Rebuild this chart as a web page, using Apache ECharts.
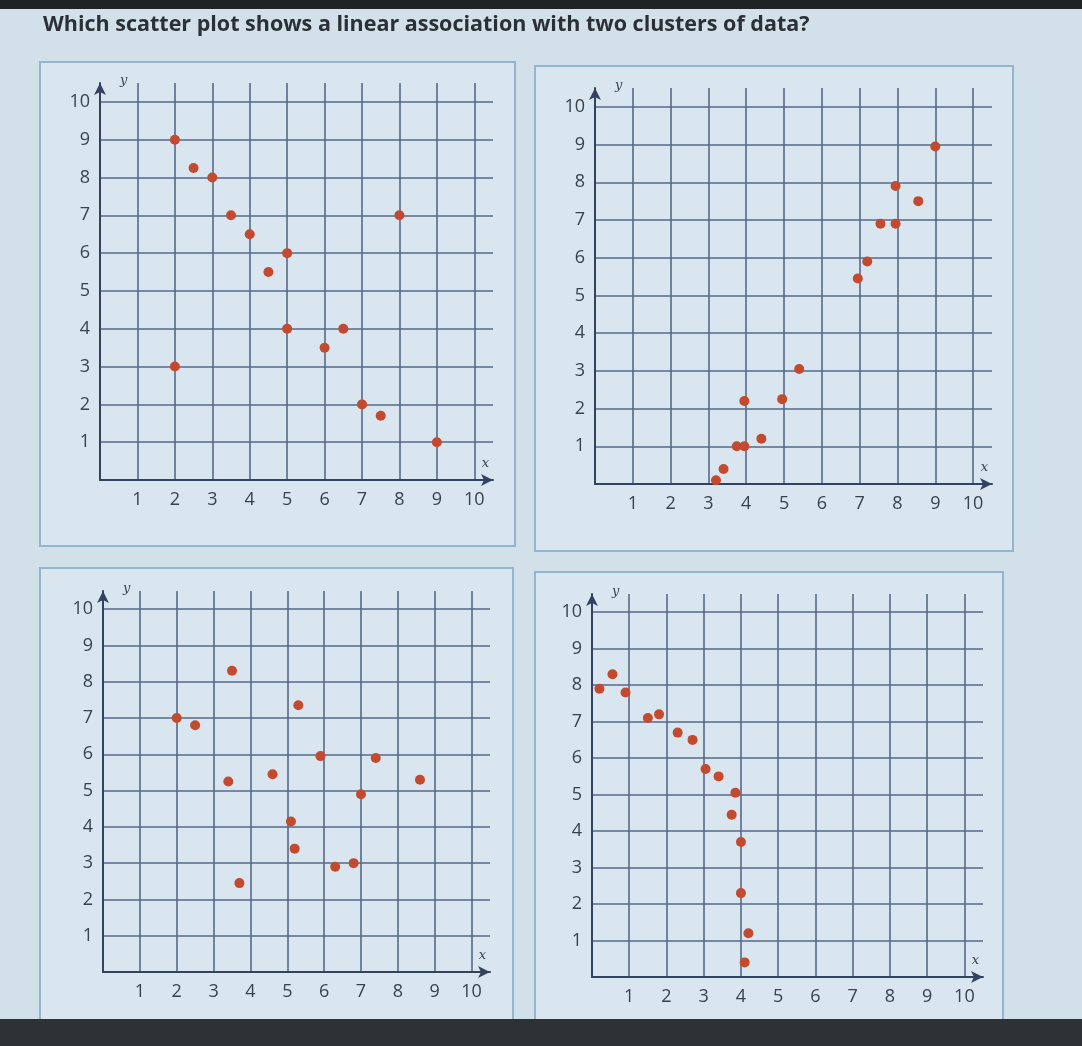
<!DOCTYPE html>
<html>
<head>
<meta charset="utf-8">
<title>Scatter plots</title>
<script src="https://cdn.jsdelivr.net/npm/echarts@6/dist/echarts.min.js"></script>
<style>
  html, body { margin: 0; padding: 0; background: #d2e0ea; }
  #chart { width: 1082px; height: 1046px; }
</style>
</head>
<body>
<div id="chart"></div>
<script>
// question text
const question = 'Which scatter plot shows a linear association with two clusters of data?';

// axis ticks shown on every plot (0..10, labels 1..10)
const tickLabels = [1, 2, 3, 4, 5, 6, 7, 8, 9, 10];

// plot A (top left)
const plotAx = [2, 2.5, 3, 3.5, 4, 4.5, 5, 5, 6, 6.5, 2, 8, 7, 7.5, 9];
const plotAy = [9, 8.25, 8, 7, 6.5, 5.5, 6, 4, 3.5, 4, 3, 7, 2, 1.7, 1];

// plot B (top right)
const plotBx = [9, 7.95, 8.55, 7.55, 7.95, 7.2, 6.95, 5.4, 4.95, 3.95, 4.4, 3.75, 3.95, 3.4, 3.2];
const plotBy = [8.95, 7.9, 7.5, 6.9, 6.9, 5.9, 5.45, 3.05, 2.25, 2.2, 1.2, 1, 1, 0.4, 0.1];

// plot C (bottom left)
const plotCx = [3.5, 2, 2.5, 5.3, 5.9, 7.4, 3.4, 4.6, 8.6, 7, 5.1, 5.2, 6.3, 6.8, 3.7];
const plotCy = [8.3, 7, 6.8, 7.35, 5.95, 5.9, 5.25, 5.45, 5.3, 4.9, 4.15, 3.4, 2.9, 3, 2.45];

// plot D (bottom right)
const plotDx = [0.2, 0.55, 0.9, 1.5, 1.8, 2.3, 2.7, 3.05, 3.4, 3.85, 3.75, 4, 4, 4.2, 4.1];
const plotDy = [7.9, 8.3, 7.8, 7.1, 7.2, 6.7, 6.5, 5.7, 5.5, 5.05, 4.45, 3.7, 2.3, 1.2, 0.4];

const plots = [
  { xs: plotAx, ys: plotAy, grid: { left: 100, top: 83, width: 393, height: 397 }, box: [40, 62, 475, 484] },
  { xs: plotBx, ys: plotBy, grid: { left: 595, top: 88, width: 397, height: 396 }, box: [535, 66, 478, 485] },
  { xs: plotCx, ys: plotCy, grid: { left: 103, top: 591, width: 387, height: 381 }, box: [40, 568, 473, 470] },
  { xs: plotDx, ys: plotDy, grid: { left: 592, top: 594, width: 391, height: 383 }, box: [535, 572, 468, 470] }
];

const gridColor = '#56698a';
const axisColor = '#33435f';
const labelColor = '#3a424c';
const dotColor = '#c44a2f';

const tickFmt = v => (tickLabels.indexOf(v) >= 0 ? String(v) : '');

function makeAxis(dim, i) {
  return {
    type: 'value',
    gridIndex: i,
    min: 0,
    max: 10.5,
    interval: 1,
    name: dim,
    nameLocation: 'end',
    nameGap: dim === 'x' ? -4 : 2,
    nameTextStyle: dim === 'x'
      ? { fontStyle: 'italic', fontSize: 13, color: labelColor, fontFamily: 'DejaVu Serif',
          align: 'right', verticalAlign: 'bottom', padding: [0, 0, 10, 0] }
      : { fontStyle: 'italic', fontSize: 13, color: labelColor, fontFamily: 'DejaVu Serif',
          align: 'left', verticalAlign: 'middle', padding: [0, 0, 8, 20] },
    axisLine: {
      show: true,
      symbol: ['none', 'arrow'],
      symbolSize: [9, 12],
      lineStyle: { color: axisColor, width: 2 }
    },
    axisTick: { show: false },
    axisLabel: {
      formatter: tickFmt,
      color: labelColor,
      fontSize: 18,
      fontWeight: 500,
      fontFamily: 'Open Sans',
      margin: dim === 'x' ? 11 : 10
    },
    splitLine: {
      show: true,
      showMinLine: false,
      showMaxLine: false,
      lineStyle: { color: gridColor, width: 1.6 }
    }
  };
}

const graphics = [
  { type: 'rect', shape: { x: 0, y: 0, width: 1082, height: 9 }, style: { fill: '#1e2225' }, z: -10 },
  { type: 'rect', shape: { x: 0, y: 1019, width: 1082, height: 27 }, style: { fill: '#2d3235' }, z: 100 }
];
plots.forEach(p => {
  graphics.push({
    type: 'rect',
    shape: { x: p.box[0], y: p.box[1], width: p.box[2], height: p.box[3] },
    style: { fill: '#d9e6ef', stroke: '#93b6cf', lineWidth: 2 },
    z: -10
  });
});

const chart = echarts.init(document.getElementById('chart'));
chart.setOption({
  backgroundColor: '#d2e0ea',
  animation: false,
  title: {
    text: question,
    left: 38,
    top: 9,
    textStyle: { fontFamily: 'Open Sans', fontWeight: 'bold', fontSize: 21.5, color: '#2b3036' }
  },
  graphic: graphics,
  grid: plots.map(p => Object.assign({ containLabel: false }, p.grid)),
  xAxis: plots.map((p, i) => makeAxis('x', i)),
  yAxis: plots.map((p, i) => makeAxis('y', i)),
  series: plots.map((p, i) => ({
    type: 'scatter',
    xAxisIndex: i,
    yAxisIndex: i,
    symbolSize: 10,
    itemStyle: { color: dotColor, opacity: 1 },
    data: p.xs.map((x, k) => [x, p.ys[k]])
  }))
});
</script>
</body>
</html>
